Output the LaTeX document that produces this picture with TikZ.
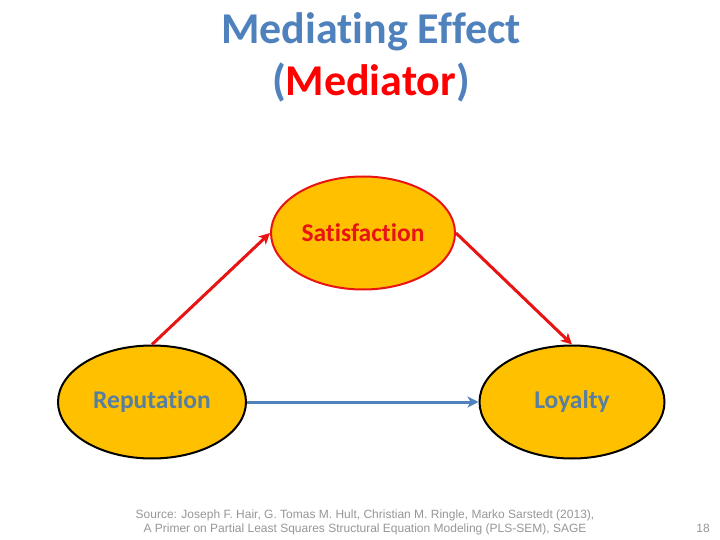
\documentclass[tikz,border=0pt]{standalone}
\usepackage{fontspec}
\setmainfont[Ligatures={NoCommon}]{Carlito}
\newfontfamily\srcfont{Liberation Sans}
\usepackage{tikz}
\usetikzlibrary{shapes,arrows,arrows.meta}
\usetikzlibrary{calc}

\definecolor{titleblue}{RGB}{79,129,189}
\definecolor{namegray}{RGB}{88,126,160}
\definecolor{boxfill}{RGB}{255,192,0}
\definecolor{arrowred}{RGB}{232,20,20}
\definecolor{srcgray}{RGB}{150,150,150}

\tikzset{
	construct/.style={ellipse, fill=boxfill, line width=2pt, inner sep=0pt,
		minimum width=186pt, minimum height=113pt, font=\fontsize{25.5}{30}\selectfont\bfseries},
	redarrow/.style={-{Stealth[length=11pt,width=11pt,inset=3pt]}, draw=arrowred, line width=3pt},
	bluearrow/.style={-{Stealth[length=11pt,width=11pt,inset=3pt]}, draw=titleblue, line width=3pt}
}

\begin{document}
\begin{tikzpicture}[x=1pt, y=-1pt]
	\useasboundingbox (0,0) rectangle (720,540);
	
	% title
	\node[text=titleblue, align=center, font=\fontsize{44}{52}\selectfont\bfseries] (title) at (371,57)
		{Mediating Effect\\(\textcolor{red}{Mediator})};
	
	% the three constructs
	\node[construct, draw=arrowred, text=arrowred, minimum width=184pt] (sat) at (363,233) {Satisfaction};
	\node[construct, draw=black, text=namegray, minimum width=188pt] (rep) at (152,402) {Reputation};
	\node[construct, draw=black, text=namegray, minimum width=185pt] (loy) at (572,402) {Loyalty};
	
	% paths
	\draw[redarrow] (rep.north) -- (sat.west);
	\draw[redarrow] (sat.east) -- (loy.north);
	\draw[bluearrow] (rep.east) -- (loy.west);
	
	% source and page number
	\node[text=srcgray, align=center, font=\srcfont\fontsize{12}{14}\selectfont] (source) at (365,522)
		{Source: Joseph F. Hair, G. Tomas M. Hult, Christian M. Ringle, Marko Sarstedt (2013),\\
		 A Primer on Partial Least Squares Structural Equation Modeling (PLS-SEM), SAGE};
	\node[text=srcgray, font=\srcfont\fontsize{12}{14}\selectfont] (page) at (703,528) {18};
\end{tikzpicture}
\end{document}
